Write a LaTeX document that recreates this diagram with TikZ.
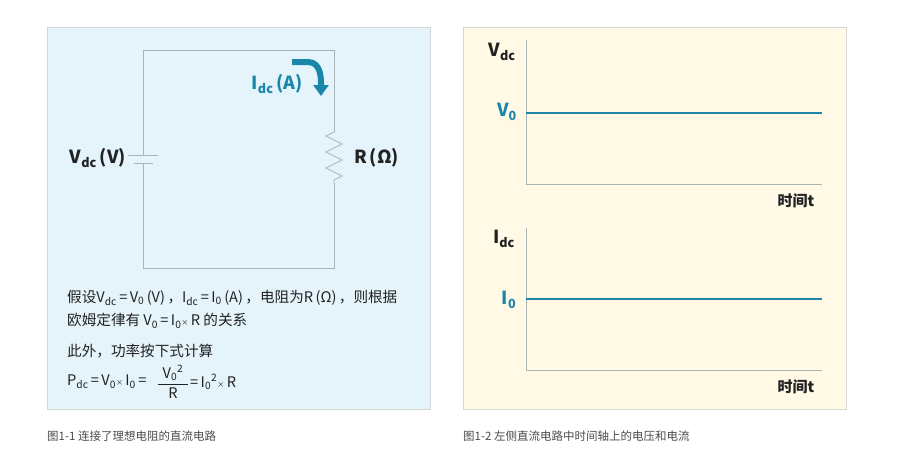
\documentclass[tikz,border=0pt]{standalone}
\usepackage{fontspec}
\setmainfont{Noto Sans CJK SC}
\usetikzlibrary{arrows.meta}
\definecolor{teal}{HTML}{1A87AA}
\definecolor{wire}{HTML}{A9B4B8}
\definecolor{lb}{HTML}{E4F4FA}
\definecolor{cr}{HTML}{FFF9E6}
\definecolor{bd}{HTML}{D6D6D6}
\definecolor{txt}{HTML}{222222}
\newcommand{\tms}{{\scriptsize×}}
\begin{document}
\begin{tikzpicture}[x=1pt,y=-1pt,
  lab/.style={font=\fontsize{18}{20}\selectfont\bfseries,text=txt,inner sep=0},
  body/.style={font=\fontsize{14.6}{16}\selectfont,text=txt,inner sep=0,anchor=west},
  captxt/.style={font=\fontsize{11.5}{13}\selectfont,text=black!70,inner sep=0,anchor=west},
  ax/.style={draw=wire,line width=0.8pt},
  sig/.style={draw=teal,line width=1.3pt}]
\useasboundingbox (0,0) rectangle (897,474);
\fill[white] (0,0) rectangle (897,474);
\draw[bd,fill=lb] (47,27) rectangle (430,409);
\draw[bd,fill=cr] (463,27) rectangle (846,409);
% circuit
\coordinate (bt) at (143,155); \coordinate (bb) at (143,163);
\coordinate (rt) at (334,132); \coordinate (rb) at (334,183);
\draw[ax] (bt) -- (143,50) -- (334,50) -- (rt);
\draw[ax] (rt) -- (326,136) -- (342,144) -- (326,152) -- (342,160) -- (326,168) -- (342,176) -- (334,180) -- (rb);
\draw[ax] (rb) -- (334,268) -- (143,268) -- (bb);
\draw[ax] (128,155) -- (158,155);
\draw[ax] (134,163) -- (153,163);
\node[lab,anchor=east] (vdc) at (126,158) {V\textsubscript{dc}\,(V)};
\node[lab,anchor=west] (r) at (354,158) {R\,(Ω)};
\coordinate (as) at (292,62);
\coordinate (ae) at (321,96);
\draw[teal,line width=6pt,-{Triangle[length=11pt,width=15pt]}] (as) -- (308,62) to[out=0,in=90] (ae);
\node[lab,text=teal,anchor=east] (idc) at (303,84) {I\textsubscript{dc}\,(A)};
% text
\node[body] (t1) at (67,298) {假设V\textsubscript{dc}\,=\,V\textsubscript{0}\,(V)\,，I\textsubscript{dc}\,=\,I\textsubscript{0}\,(A)\,，电阻为R\,(Ω)\,，则根据};
\node[body] (t2) at (67,321) {欧姆定律有 V\textsubscript{0}\,=\,I\textsubscript{0}\tms\,R 的关系};
\node[body] (t3) at (67,351) {此外，功率按下式计算};
\node[body] (t4) at (67,382) {P\textsubscript{dc}\,=\,V\textsubscript{0}\tms\,I\textsubscript{0}\,=~\,};
\node[body,anchor=center] (num) at (173,373) {V\textsubscript{0}\textsuperscript{2}};
\node[body,anchor=center] (den) at (173,393) {R};
\draw[txt,line width=0.5pt] (158,384) -- (188,384);
\node[body] (t5) at (190,382) {=\,I\textsubscript{0}\textsuperscript{2}\tms\,R};
% graphs
\coordinate (o1) at (526,184); \coordinate (y1) at (526,40); \coordinate (x1) at (822,184);
\draw[ax] (y1) -- (o1) -- (x1);
\coordinate (v0a) at (526,113); \coordinate (v0b) at (822,113);
\draw[sig] (v0a) -- (v0b);
\node[lab] (gv) at (502,52) {V\textsubscript{dc}};
\node[lab,text=teal] (gv0) at (507,112) {V\textsubscript{0}};
\node[lab,font=\fontsize{15}{17}\selectfont\bfseries] (t1x) at (796,201) {时间t};
\coordinate (o2) at (526,370); \coordinate (y2) at (526,228); \coordinate (x2) at (822,370);
\draw[ax] (y2) -- (o2) -- (x2);
\coordinate (i0a) at (526,299); \coordinate (i0b) at (822,299);
\draw[sig] (i0a) -- (i0b);
\node[lab] (gi) at (504,239) {I\textsubscript{dc}};
\node[lab,text=teal] (gi0) at (509,300) {I\textsubscript{0}};
\node[lab,font=\fontsize{15}{17}\selectfont\bfseries] (t2x) at (796,387) {时间t};
\node[captxt] (c1) at (47,436) {图1-1 连接了理想电阻的直流电路};
\node[captxt] (c2) at (463,436) {图1-2 左侧直流电路中时间轴上的电压和电流};
\end{tikzpicture}
\end{document}
